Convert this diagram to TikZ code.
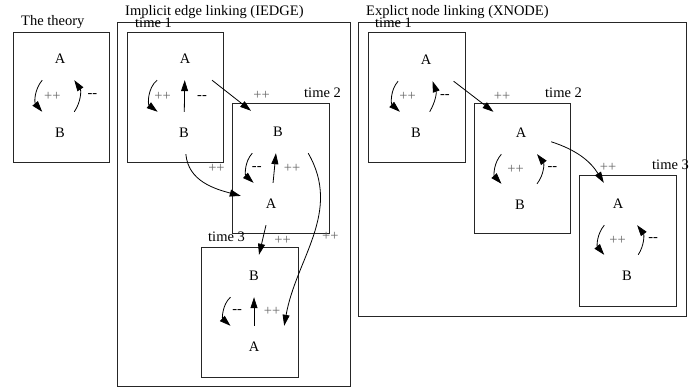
\documentclass[tikz,border=0pt]{standalone}
\usepackage{fontspec}
\setmainfont{Liberation Serif}
\usetikzlibrary{arrows.meta}

\begin{document}
\begin{tikzpicture}[x=1pt, y=1pt,
font=\fontsize{14.5}{17}\selectfont,
state/.style={rectangle, minimum width=60pt, minimum height=42pt, inner sep=0pt},
frame/.style={draw=black!85, line width=0.9pt},
title/.style={anchor=west, inner sep=0pt},
pp/.style={text=black!60},
link/.style={-{Triangle[length=11pt,width=7pt]}, line width=0.8pt}
]
\useasboundingbox (0,0) rectangle (696,-390);
%Frames
\draw[frame] (13,-32)  rectangle (109,-162);
\draw[frame] (117,-22) rectangle (350,-386);
\draw[frame] (127,-32) rectangle (223,-162);
\draw[frame] (232,-103) rectangle (329,-233);
\draw[frame] (201,-247) rectangle (298,-377);
\draw[frame] (358,-22) rectangle (686,-316);
\draw[frame] (368,-32) rectangle (465,-162);
\draw[frame] (474,-103) rectangle (570,-233);
\draw[frame] (579,-175) rectangle (676,-306);
%Titles
\node[title] (theory) at (21,-22)    {The theory};
\node[title] (iedge)  at (125,-12.5) {Implicit edge linking (IEDGE)};
\node[title] (xnode)  at (366,-12.5) {Explict node linking (XNODE)};
\node[title] (itime1) at (135,-22.5) {time 1};
\node[title] (itime2) at (304,-93)   {time 2};
\node[title] (itime3) at (208,-237)  {time 3};
\node[title] (xtime1) at (375,-22.5) {time 1};
\node[title] (xtime2) at (545,-93)   {time 2};
\node[title] (xtime3) at (652,-165)  {time 3};
%Nodes
\node[state] (tA)  at (60,-59)   {A};
\node[state] (tB)  at (60,-133)  {B};
\node[state] (i1A) at (185,-59)  {A};
\node[state] (i1B) at (184,-133) {B};
\node[state] (i2B) at (278,-132) {B};
\node[state] (i2A) at (271,-204) {A};
\node[state] (i3B) at (254,-276) {B};
\node[state] (i3A) at (254,-347) {A};
\node[state] (x1A) at (426,-60)  {A};
\node[state] (x1B) at (416,-133) {B};
\node[state] (x2A) at (521,-133) {A};
\node[state] (x2B) at (520,-205) {B};
\node[state] (x3A) at (618,-204) {A};
\node[state] (x3B) at (627,-276) {B};
%Lines
\draw[link] (tA) to[bend right=40] node[midway, xshift=16pt, pp] {++} (tB);
\draw[link] (tB) to[bend right=34] node[midway, xshift=13pt] {-{}-} (tA);

\draw[link] (i1A) to[bend right=52] node[midway, xshift=12.5pt, pp] {++} (i1B);
\draw[link] (i1B) -- (i1A) node[midway, xshift=17.5pt, yshift=-2pt] {-{}-};
\draw[link] (i1A) -- (i2B) node[midway, xshift=30pt] [pp] {++};
\draw[link] (i1B) to[out=-85, in=165] node[midway, xshift=12pt, yshift=14pt, pp] {++} (i2A);
\draw[link] (i2B) to[bend right=45] node[midway, xshift=10pt] {-{}-} (i2A);
\draw[link] (i2A) -- (i2B) node[midway, xshift=17.5pt] [pp] {++};
\draw[link] (i2A) -- (i3B) node[midway, xshift=20pt] [pp] {++};
\draw[link] (i2B.south east) to[out=-60, in=80] node[midway, xshift=17pt, pp] {++} (i3A.north east);
\draw[link] (i3B) to[bend right=48] node[midway, xshift=13pt] {-{}-} (i3A);
\draw[link] (i3A) -- (i3B) node[midway, xshift=18pt] [pp] {++};

\draw[link] (x1A) to[bend right=45] node[midway, xshift=15pt, pp] {++} (x1B);
\draw[link] (x1B) to[bend right=25] node[midway, xshift=10pt] {-{}-} (x1A);
\draw[link] (x1A) -- (x2A) node[midway, xshift=28.5pt] [pp] {++};
\draw[link] (x2A) to[bend right=42] node[midway, xshift=20pt, pp] {++} (x2B);
\draw[link] (x2B) to[bend right=38] node[midway, xshift=10pt] {-{}-} (x2A);
\draw[link] (x2A) to[bend left=20] node[midway, xshift=26.5pt, yshift=-10pt, pp] {++} (x3A);
\draw[link] (x3A) to[bend right=40] node[midway, xshift=19pt, pp] {++} (x3B);
\draw[link] (x3B) to[bend right=35] node[midway, xshift=10.5pt] {-{}-} (x3A);
\end{tikzpicture}
\end{document}
